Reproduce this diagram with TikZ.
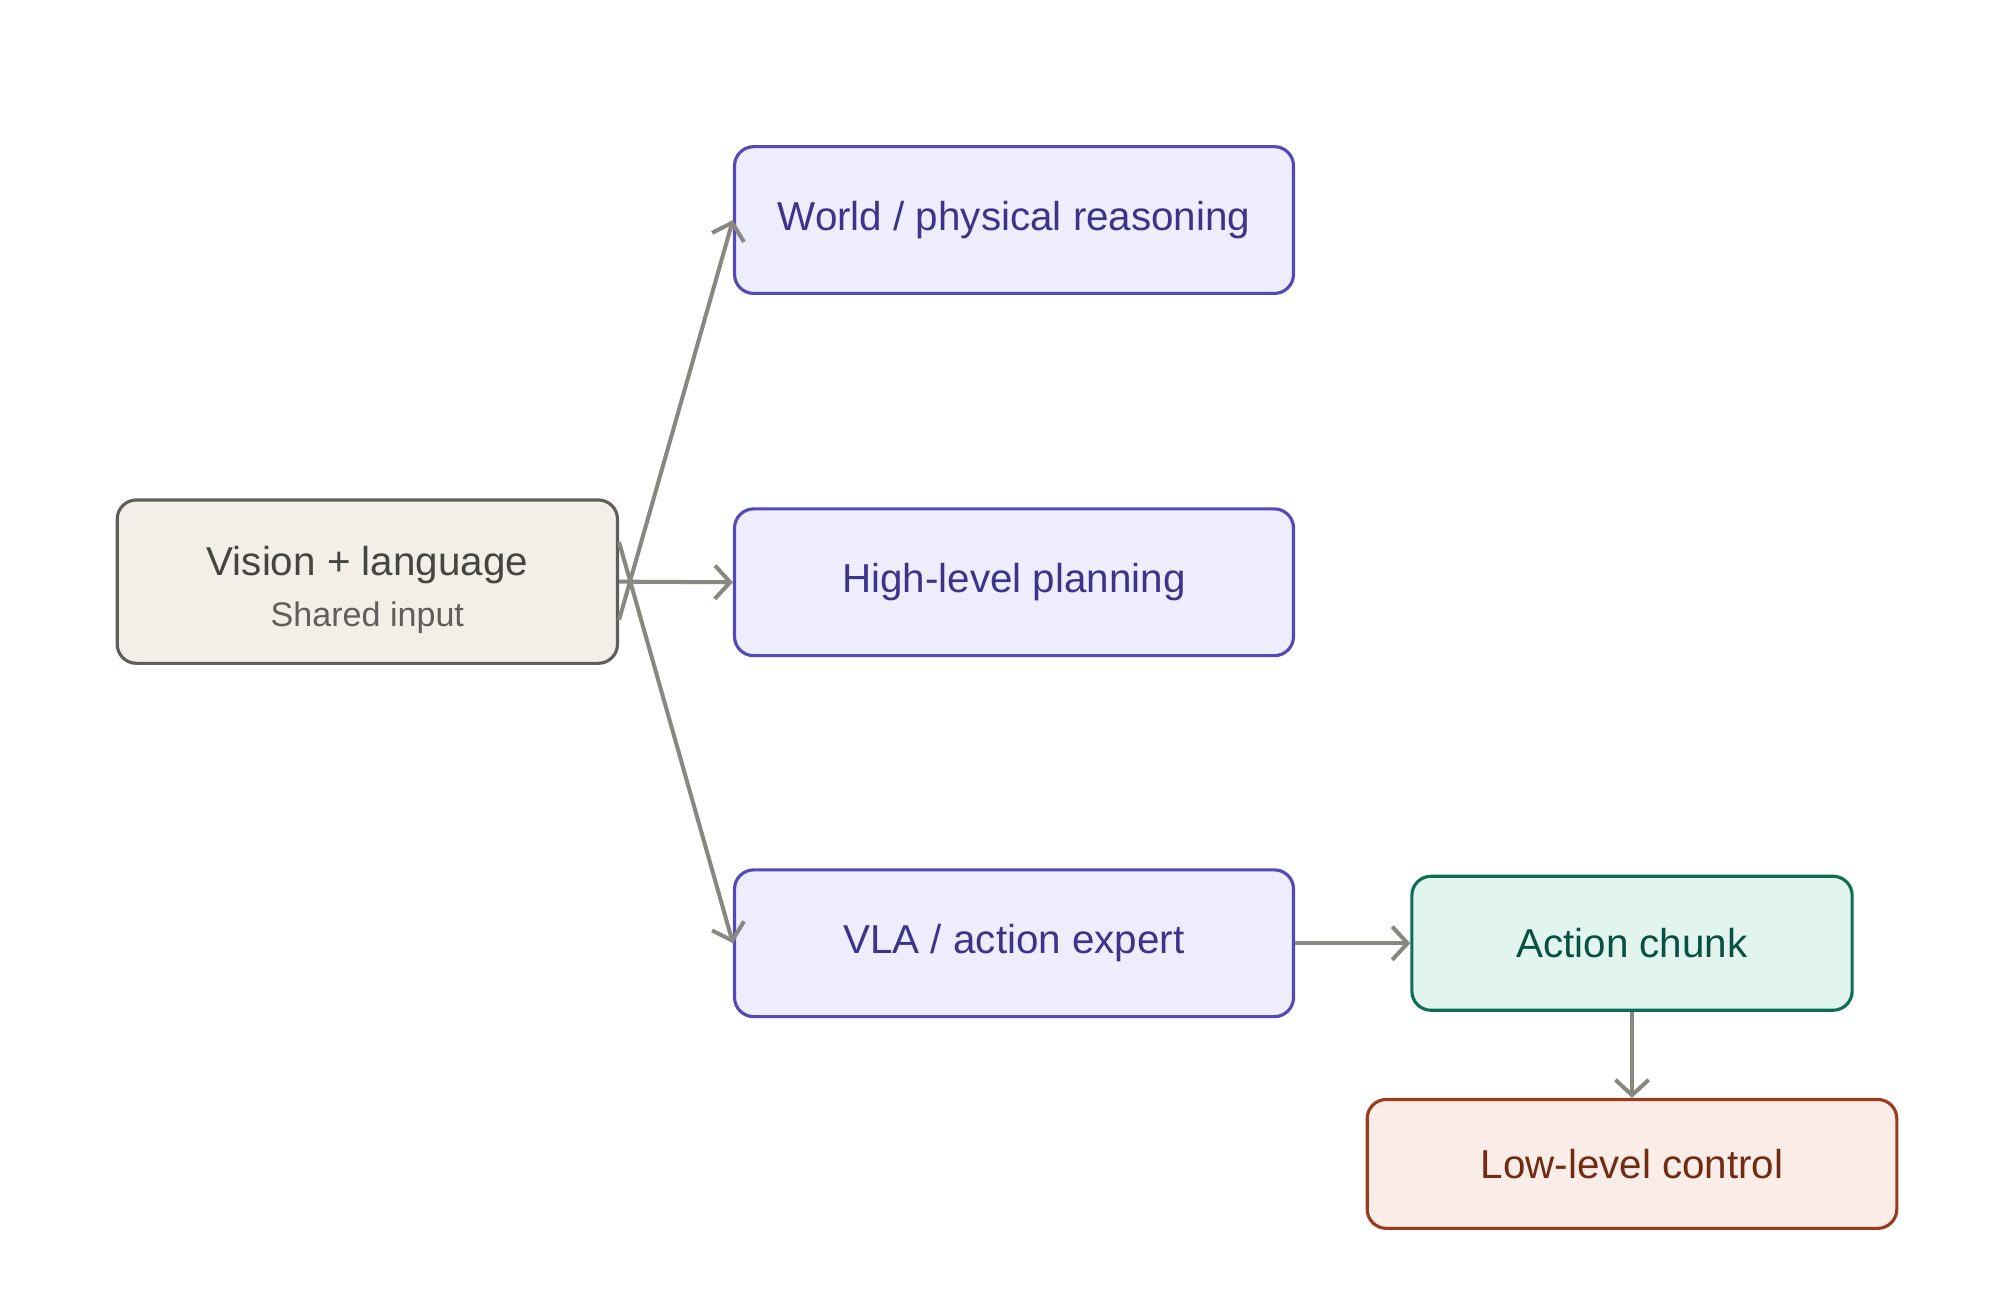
\documentclass[tikz,border=0pt]{standalone}
\usepackage{fontspec}
\setmainfont{Liberation Sans}
\usetikzlibrary{arrows.meta}
\definecolor{gfill}{HTML}{F1EFE8}\definecolor{gdraw}{HTML}{5F5E5A}\definecolor{gtext}{HTML}{444441}
\definecolor{pfill}{HTML}{EEEDFE}\definecolor{pdraw}{HTML}{534AB7}\definecolor{ptext}{HTML}{3C3489}
\definecolor{tfill}{HTML}{E1F5EE}\definecolor{tdraw}{HTML}{0F6E56}\definecolor{ttext}{HTML}{085041}
\definecolor{rfill}{HTML}{FAECE7}\definecolor{rdraw}{HTML}{993C1D}\definecolor{rtext}{HTML}{712B13}
\definecolor{arr}{HTML}{888780}
\tikzset{
 box/.style={rounded corners=0.15cm, line width=0.7pt, inner sep=0pt, font=\fontsize{9pt}{11pt}\selectfont},
 gbox/.style={box, fill=gfill, draw=gdraw, text=gtext, minimum width=3.92cm, minimum height=1.28cm},
 pbox/.style={box, fill=pfill, draw=pdraw, text=ptext, minimum width=4.38cm, minimum height=1.15cm},
 tbox/.style={box, fill=tfill, draw=tdraw, text=ttext, minimum width=3.45cm, minimum height=1.05cm},
 rbox/.style={box, fill=rfill, draw=rdraw, text=rtext, minimum width=4.15cm, minimum height=1.01cm},
 conn/.style={draw=arr, line width=0.9pt, -{Straight Barb[length=1.2mm,width=2.6mm,line width=0.9pt]}}
}
\begin{document}
\begin{tikzpicture}[x=0.01cm,y=-0.01cm]
\useasboundingbox (0,0) rectangle (1568,1014);
\node[gbox] (vis) at (288,456) {};
\node[text=gtext, font=\fontsize{9pt}{11pt}\selectfont] (vist) at (288,443) {Vision + language};
\node[text=gdraw, font=\fontsize{7.6pt}{9pt}\selectfont] (viss) at (288,484) {Shared input};
\node[pbox] (world) at (795,172.5) {World / physical reasoning};
\node[pbox] (high) at (795,456.5) {High-level planning};
\node[pbox] (vla) at (795,739.5) {VLA / action expert};
\node[tbox] (act) at (1279.5,739.5) {Action chunk};
\node[rbox] (low) at (1279.5,912.5) {Low-level control};
\draw[conn] ([yshift=-0.3cm]vis.east) -- (world.west);
\draw[conn] (vis.east) -- (high.west);
\draw[conn] ([yshift=0.31cm]vis.east) -- (vla.west);
\draw[conn] (vla.east) -- (act.west);
\draw[conn] (act.south) -- (low.north);
\end{tikzpicture}
\end{document}
